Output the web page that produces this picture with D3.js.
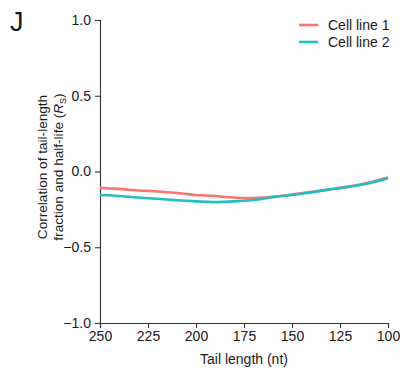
<!DOCTYPE html>
<html>
<head>
<meta charset="utf-8">
<script src="https://cdn.jsdelivr.net/npm/d3@7"></script>
<style>
  body { margin: 0; background: #fff; }
  text { font-family: "Liberation Sans", Arial, sans-serif; fill: #1a1a1a; }
</style>
</head>
<body>
<script>
// tail length positions (nt) and correlation values
const tailLengths = [250, 245, 240, 235, 230, 225, 220, 215, 210, 205, 200, 195, 190, 185, 180, 175,
  170, 165, 160, 155, 150, 145, 140, 135, 130, 125, 120, 115, 110, 105, 100];
const cellLine1 = [-0.108, -0.112, -0.115, -0.120, -0.125, -0.128, -0.132, -0.137, -0.142, -0.148, -0.155,
  -0.158, -0.162, -0.168, -0.172, -0.175, -0.175, -0.172, -0.166, -0.160, -0.152, -0.143, -0.135,
  -0.126, -0.117, -0.108, -0.098, -0.087, -0.073, -0.058, -0.040];
const cellLine2 = [-0.155, -0.157, -0.162, -0.167, -0.172, -0.177, -0.180, -0.185, -0.190, -0.193, -0.197,
  -0.200, -0.202, -0.200, -0.197, -0.193, -0.188, -0.180, -0.170, -0.162, -0.155, -0.147, -0.138,
  -0.128, -0.118, -0.110, -0.100, -0.090, -0.077, -0.062, -0.043];
const seriesNames = ['Cell line 1', 'Cell line 2'];
const xTicks = [250, 225, 200, 175, 150, 125, 100];
const yTicks = [1.0, 0.5, 0.0, -0.5, -1.0];

const colors = ['#F8766D', '#1FBFC4'];

const margin = { top: 20, right: 12, bottom: 48, left: 100 };

const svg = d3.select('body').append('svg')
  .attr('width', 400)
  .attr('height', 371);

const g = svg.append('g')
  .attr('transform', `translate(${margin.left},${margin.top})`);

const x = d3.scaleLinear().domain([250, 100]).range([0, 288]);
const y = d3.scaleLinear().domain([-1, 1]).range([303, 0]);

// axes
const xAxis = g.append('g')
  .attr('transform', `translate(0,303)`)
  .call(d3.axisBottom(x).tickValues(xTicks).tickSize(5).tickPadding(3).tickFormat(d3.format('d')));
const yAxis = g.append('g')
  .call(d3.axisLeft(y).tickValues(yTicks).tickSize(5).tickPadding(4).tickFormat(d => d3.format('.1f')(d).replace('-', '\u2212')));

[xAxis, yAxis].forEach(a => {
  a.select('.domain').attr('stroke', '#333').attr('stroke-width', 1.1);
  a.selectAll('.tick line').attr('stroke', '#333').attr('stroke-width', 1.1);
  a.selectAll('.tick text').attr('font-size', 14).attr('fill', '#1a1a1a')
    .attr('font-family', '"Liberation Sans", Arial, sans-serif');
});

// lines
const line = d3.line()
  .x((d, i) => x(tailLengths[i]))
  .y(d => y(d))
  .curve(d3.curveMonotoneX);

[cellLine1, cellLine2].forEach((s, i) => {
  g.append('path')
    .datum(s)
    .attr('fill', 'none')
    .attr('stroke', colors[i])
    .attr('stroke-width', 2.6)
    .attr('d', line);
});

// legend
const legend = svg.append('g').attr('transform', 'translate(299,25)');
seriesNames.forEach((name, i) => {
  legend.append('line')
    .attr('x1', 0).attr('x2', 19)
    .attr('y1', i * 17).attr('y2', i * 17)
    .attr('stroke', colors[i]).attr('stroke-width', 2.6);
  legend.append('text')
    .attr('x', 29).attr('y', i * 17)
    .attr('dy', '0.35em')
    .attr('font-size', 14)
    .text(name);
});

// axis titles
svg.append('text')
  .attr('x', margin.left + 144).attr('y', 364)
  .attr('text-anchor', 'middle')
  .attr('font-size', 14)
  .text('Tail length (nt)');

const yTitle = svg.append('text')
  .attr('transform', 'translate(0,167) rotate(-90)')
  .attr('text-anchor', 'middle')
  .attr('font-size', 13.6);
yTitle.append('tspan').attr('x', 0).attr('y', 47).text('Correlation of tail-length');
const l2 = yTitle.append('tspan').attr('x', 0).attr('y', 63);
l2.append('tspan').text('fraction and half-life (');
l2.append('tspan').attr('font-style', 'italic').text('R');
l2.append('tspan').attr('font-size', 9).attr('dy', 3).text('S');
l2.append('tspan').attr('dy', -3).text(')');

// panel letter
svg.append('text')
  .attr('x', 10).attr('y', 31)
  .attr('font-size', 27)
  .text('J');
</script>
</body>
</html>
